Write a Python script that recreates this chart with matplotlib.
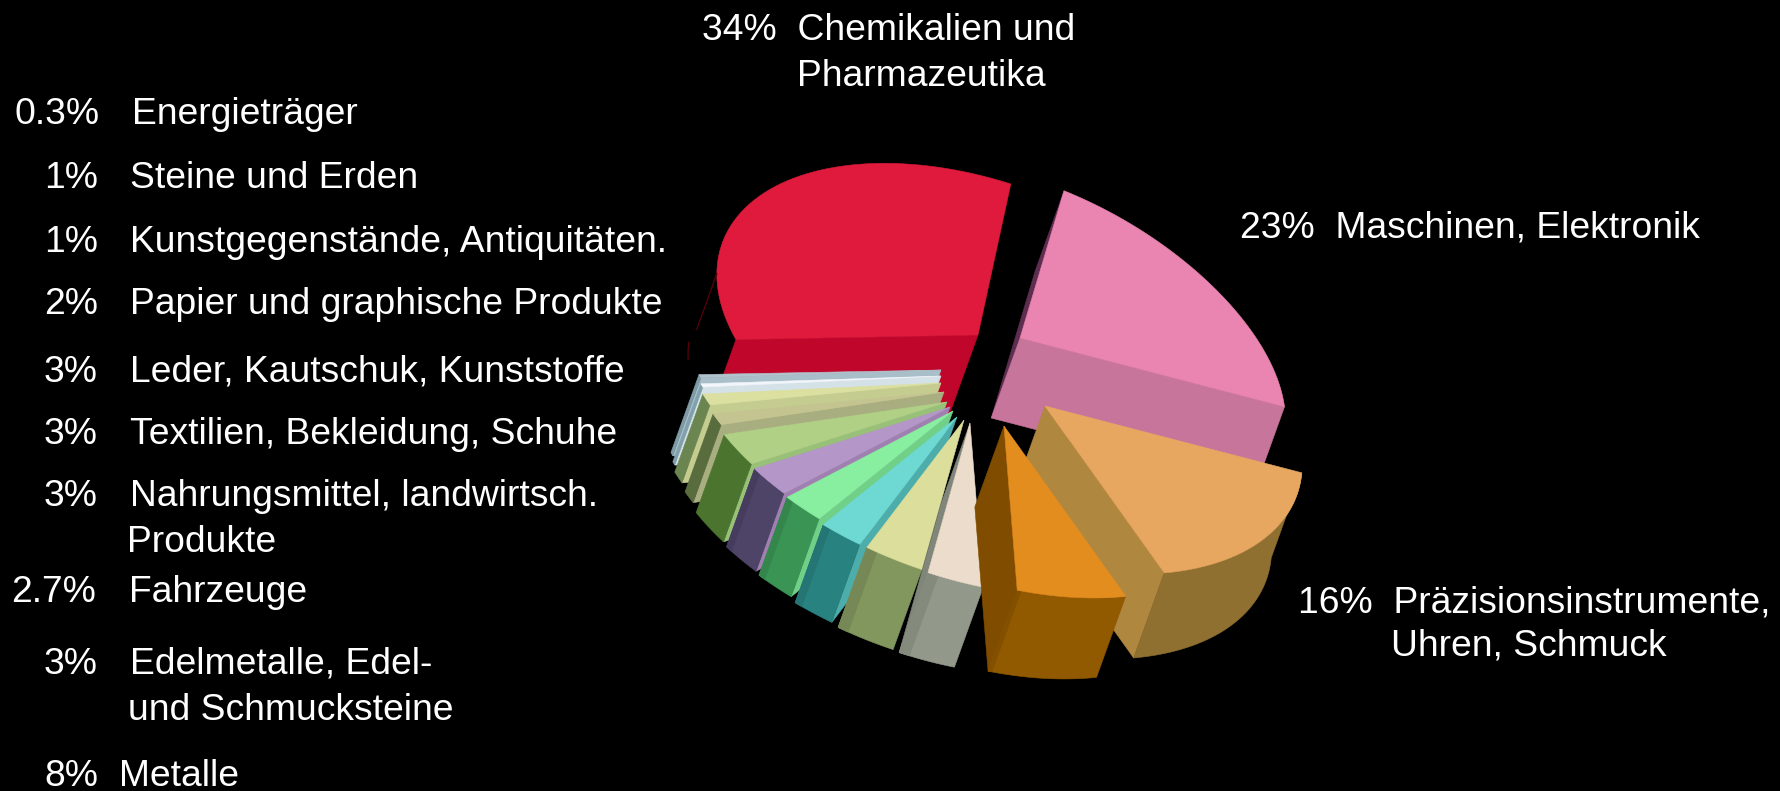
import numpy as np
import matplotlib
matplotlib.use('Agg')
import matplotlib.pyplot as plt

plt.rcParams['font.family'] = ['Liberation Sans', 'DejaVu Sans']

# shares clockwise from the top, the last small one has no label of its own
values = [23, 16, 8, 3, 2.7, 3, 3, 3, 2, 1, 1, 0.3, 0.3, 34]

top_colors = ['#EA85B2', '#E8A760', '#E48D1F', '#ECDCCB', '#DCDF9B', '#6ED8D2', '#88EEA0',
              '#B496C8', '#B0D085', '#C4C490', '#DBDF9F', '#F2F6FA', '#B0C4CE', '#DF1A3C']
face_colors = [None, '#8F7030', '#915900', '#93998A', '#82975E', '#288280', '#3A9555',
               '#4E4468', '#4B752F', '#586C3E', '#6B8550', '#80A0AC', '#7F9CA6', None]
start_walls = ['#5E2E50', None, None, None, None, '#4CADAA', '#70D088',
               '#A080B0', '#98C078', '#A8AE80', '#C4CC90', '#D4E2E8', '#A8BEC8', '#C0062B']
end_walls = ['#C7759B', '#B0873F', '#804D00', '#80867A', None, None, None,
             None, None, None, None, None, None, None]
# the faces of the small slices have a darker stripe on their far side
striped = [False, False, True, True, True, True, True, True, False, False, False, False, False, False]

# where each slice tip sits, relative to the middle of the pie (pixels)
center = (985, 395)
shift_x = [35, 60, 19, -15, -21, -28, -32, -35, -38, -41, -44, -44, -44, -7]
shift_y = [-57, 11, 31, 28, 25, 22, 16, 12, 7, -3, -12, -19, -25, -60]
depth = [80, 85, 81, 80, 80, 78, 78, 78, 78, 78, 78, 78, 78, 80]
# rim tweaks per slice: bulge in the middle, stretch towards the end
rad_bulge = [-0.05, 0.0, 0.0, 0.0, 0.0, 0.0, 0.0, 0.0, 0.0, 0.0, 0.0, 0.0, 0.0, 0.0]
rad_stretch = [0.03, -0.02, 0.0, 0.0, 0.0, 0.0, 0.0, 0.0, 0.0, 0.0, 0.0, 0.0, 0.0, 0.0]
# small moves of the slice borders, the drawing is not exactly to scale
border_nudge = [0, 0, 0.006, -0.004, 0, 0.008, 0.003, -0.003, -0.008, 0, 0, 0, 0, 0, -0.007]
draw_order = [13, 12, 11, 10, 9, 8, 7, 6, 5, 4, 3, 0, 1, 2]

# view of the pie: images of the two axes and the perspective terms
view = (44.24, -148.01, 255.26, 87.25, 0.0052, 0.0073)

big_labels = [('34%  Chemikalien und', 702, 31), ('Pharmazeutika', 797, 76),
              ('23%  Maschinen, Elektronik', 1240, 228),
              ('16%  Präzisionsinstrumente,', 1298, 603), ('Uhren, Schmuck', 1391, 646)]
pct_labels = ['0.3%', '1%', '1%', '2%', '3%', '3%', '3%', '2.7%', '3%', '8%']
name_labels = ['Energieträger', 'Steine und Erden', 'Kunstgegenstände, Antiquitäten.',
               'Papier und graphische Produkte', 'Leder, Kautschuk, Kunststoffe',
               'Textilien, Bekleidung, Schuhe', 'Nahrungsmittel, landwirtsch.', 'Fahrzeuge',
               'Edelmetalle, Edel-', 'Metalle']
pct_x = [15, 44, 44, 44, 44, 44, 44, 11, 44, 44]
name_x = [132, 130, 130, 130, 130, 130, 130, 129, 130, 119]
label_y = [114, 179, 243, 305, 372, 434, 496, 592, 664, 777]
extra_lines = [('Produkte', 127, 542), ('und Schmucksteine', 128, 710)]


def rim(frac):
    t = 2 * np.pi * frac
    x, y = np.cos(t), np.sin(t)
    d = 1 + view[4] * x + view[5] * y
    return (view[0] * x + view[2] * y) / d, (view[1] * x + view[3] * y) / d


def patch(ax, xs, ys, color):
    ax.fill(xs, ys, facecolor=color, edgecolor=color, linewidth=0.4)


fig = plt.figure(figsize=(17.81, 7.91), dpi=100, facecolor='black')
ax = fig.add_axes([0, 0, 1, 1])
ax.set_xlim(0, 1781)
ax.set_ylim(791, 0)
ax.axis('off')

fracs = np.cumsum([0] + values) / np.sum(values) + np.array(border_nudge)

for i in draw_order:
    s = np.linspace(0, 1, 60)
    rx, ry = rim(fracs[i] + s * (fracs[i + 1] - fracs[i]))
    r = 1 + rad_bulge[i] * np.sin(np.pi * s) + rad_stretch[i] * s
    ax0, ay0 = center[0] + shift_x[i], center[1] + shift_y[i]
    xs, ys = ax0 + rx * r, ay0 + ry * r
    dx, dy = -0.36 * depth[i], depth[i]

    if i == len(values) - 1:
        # faint outline of the back of the big slice
        k = np.argmin(xs)
        ax.plot([xs[k], xs[k] + 0.7 * dx], [ys[k], ys[k] + 0.7 * dy], color='#5A0008', linewidth=0.9)
        ax.plot(xs[k - 1:k + 3] + dx, ys[k - 1:k + 3] + dy, color='#5A0008', linewidth=0.9)
    if start_walls[i]:
        patch(ax, [ax0, xs[0], xs[0] + dx, ax0 + dx], [ay0, ys[0], ys[0] + dy, ay0 + dy], start_walls[i])
    if end_walls[i]:
        patch(ax, [ax0, xs[-1], xs[-1] + dx, ax0 + dx], [ay0, ys[-1], ys[-1] + dy, ay0 + dy], end_walls[i])
    if face_colors[i]:
        patch(ax, np.r_[xs, xs[::-1] + dx], np.r_[ys, ys[::-1] + dy], face_colors[i])
        if striped[i]:
            n = 12 if i != 2 else 3
            band = tuple(0.9 * c for c in matplotlib.colors.to_rgb(face_colors[i]))
            patch(ax, np.r_[xs[-n:], xs[-n:][::-1] + dx], np.r_[ys[-n:], ys[-n:][::-1] + dy], band)
    patch(ax, np.r_[ax0, xs], np.r_[ay0, ys], top_colors[i])

size = 26.8
for txt, x, y in big_labels:
    ax.text(x, y, txt, color='white', fontsize=size, ha='left', va='center')
for p, n, px, nx, y in zip(pct_labels, name_labels, pct_x, name_x, label_y):
    ax.text(px, y, p, color='white', fontsize=size, ha='left', va='center')
    ax.text(nx, y, n, color='white', fontsize=size, ha='left', va='center')
for txt, x, y in extra_lines:
    ax.text(x, y, txt, color='white', fontsize=size, ha='left', va='center')

fig.savefig('out.png', dpi=100, facecolor='black')
